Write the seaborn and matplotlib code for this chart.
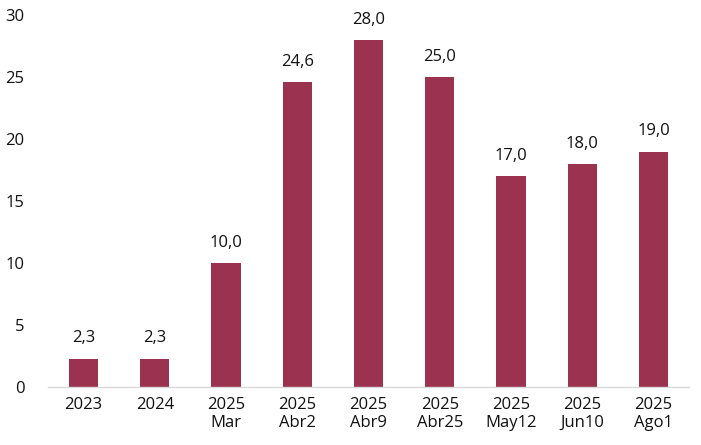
import seaborn as sns
import pandas as pd
import matplotlib.pyplot as plt

categories = ['2023', '2024', '2025\nMar', '2025\nAbr2', '2025\nAbr9', '2025\nAbr25',
              '2025\nMay12', '2025\nJun10', '2025\nAgo1']
values = [2.3, 2.3, 10.0, 24.6, 28.0, 25.0, 17.0, 18.0, 19.0]

data = pd.DataFrame({'cat': categories, 'val': values})

sns.set_style('white')
plt.rcParams['font.family'] = ['Open Sans', 'DejaVu Sans']

fig = plt.figure(figsize=(7.01, 4.45), dpi=100)
ax = fig.add_axes([0.0685, 0.130, 0.9145, 0.836])

sns.barplot(data=data, x='cat', y='val', color='#9A3250', saturation=1, width=0.41,
            linewidth=0, ax=ax)

# value labels with comma decimals
for i, v in enumerate(values):
    ax.text(i, v + 1.0, f'{v:.1f}'.replace('.', ','), ha='center', va='bottom',
            fontsize=12, color='#111111')

ax.set_ylim(0, 30)
ax.set_yticks(range(0, 31, 5))
ax.set_xlabel('')
ax.set_ylabel('')
ax.tick_params(axis='both', length=0, labelsize=12, colors='#111111')
ax.tick_params(axis='y', pad=17)
ax.tick_params(axis='x', pad=7)
for s in ['top', 'right', 'left']:
    ax.spines[s].set_visible(False)
ax.spines['bottom'].set_color('#d9d9d9')
ax.spines['bottom'].set_linewidth(1)

fig.savefig('out.png', dpi=100)
